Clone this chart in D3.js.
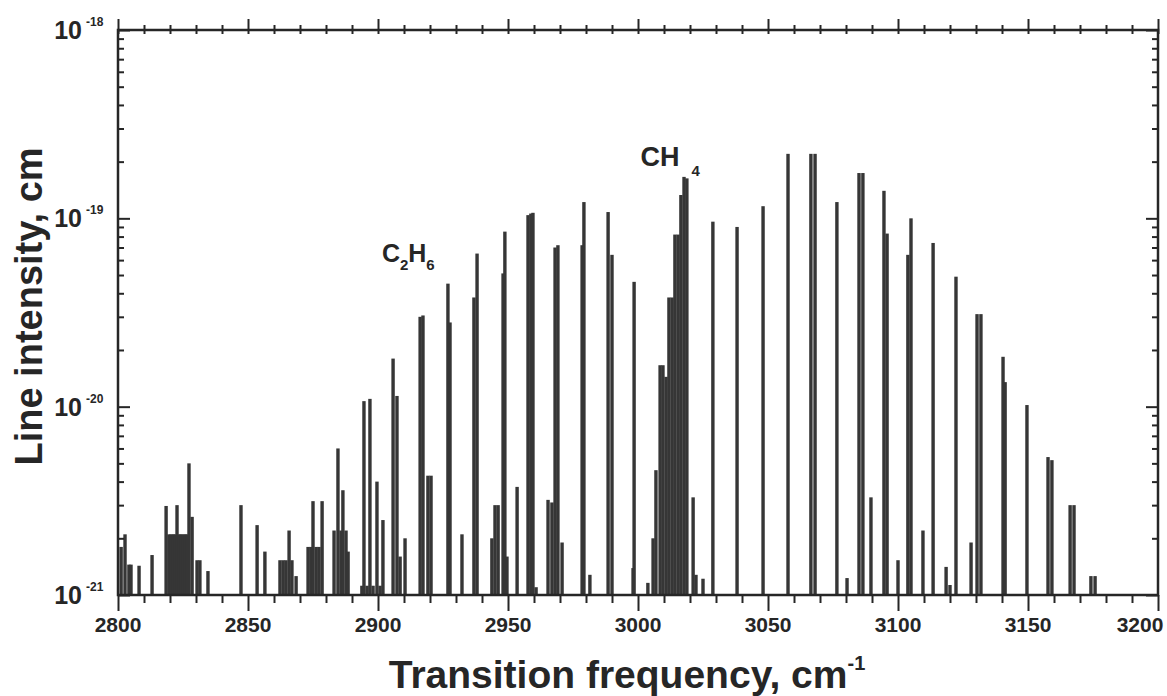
<!DOCTYPE html>
<html>
<head>
<meta charset="utf-8">
<script src="https://cdn.jsdelivr.net/npm/d3@7"></script>
<style>
  body { margin: 0; background: #fff; }
  text { font-family: "Liberation Sans", Arial, sans-serif; font-weight: bold; fill: #262626; }
</style>
</head>
<body>
<div id="chart"></div>
<script>
// line positions (cm-1) and intensities (cm)
const freqs = [
  2801.2, 2802.7, 2804.2, 2805.0, 2808.1, 2813.1, 2818.5, 2819.6, 2820.4, 2821.2,
  2821.9, 2822.7, 2823.5, 2824.2, 2825.0, 2825.8, 2826.5, 2827.3, 2828.5, 2830.4,
  2831.5, 2834.6, 2847.3, 2853.5, 2856.5, 2862.3, 2863.5, 2864.6, 2865.8, 2866.9,
  2868.5, 2873.1, 2874.2, 2875.0, 2876.2, 2877.3, 2878.5, 2883.1, 2884.6, 2885.8,
  2886.5, 2887.7, 2888.5, 2893.8, 2894.6, 2895.8, 2896.9, 2898.1, 2899.6, 2900.8,
  2901.9, 2905.8, 2907.3, 2908.5, 2910.4, 2916.2, 2917.3, 2919.2, 2920.4, 2926.9,
  2927.7, 2932.3, 2936.9, 2938.1, 2943.8, 2945.0, 2946.2, 2948.1, 2948.8, 2949.6,
  2953.5, 2957.7, 2958.8, 2959.6, 2960.8, 2965.4, 2966.9, 2968.1, 2969.2, 2970.8,
  2978.5, 2979.2, 2981.5, 2988.5, 2990.0, 2998.1, 2998.5, 3003.8, 3005.8, 3006.9,
  3008.5, 3009.6, 3010.8, 3011.9, 3013.1, 3014.2, 3015.4, 3016.5, 3017.7, 3018.8,
  3021.2, 3022.3, 3025.0, 3028.8, 3038.1, 3048.1, 3057.7, 3066.5, 3068.1, 3076.5,
  3080.4, 3085.0, 3086.5, 3089.6, 3094.6, 3095.8, 3100.0, 3103.8, 3105.0, 3109.6,
  3113.5, 3118.5, 3120.0, 3122.3, 3128.1, 3130.4, 3131.9, 3140.4, 3141.2, 3149.6,
  3157.7, 3159.2, 3166.2, 3167.7, 3174.2, 3175.8
];
const intensities = [
  1.8e-21, 2.1e-21, 1.45e-21, 1.45e-21, 1.43e-21, 1.63e-21, 2.97e-21, 2.1e-21, 2.1e-21, 2.1e-21,
  2.1e-21, 3.0e-21, 2.1e-21, 2.1e-21, 2.1e-21, 2.1e-21, 2.1e-21, 5.0e-21, 2.6e-21, 1.53e-21,
  1.53e-21, 1.34e-21, 3.0e-21, 2.35e-21, 1.7e-21, 1.53e-21, 1.53e-21, 1.53e-21, 2.2e-21, 1.53e-21,
  1.26e-21, 1.8e-21, 1.8e-21, 3.15e-21, 1.8e-21, 1.8e-21, 3.15e-21, 2.2e-21, 6.0e-21, 2.2e-21,
  3.6e-21, 2.2e-21, 1.7e-21, 1.12e-21, 1.07e-20, 1.12e-21, 1.1e-20, 1.12e-21, 4.0e-21, 1.12e-21,
  2.5e-21, 1.8e-20, 1.14e-20, 1.6e-21, 2.0e-21, 3.0e-20, 3.05e-20, 4.3e-21, 4.3e-21, 4.5e-20,
  2.8e-20, 2.1e-21, 3.8e-20, 6.5e-20, 2.0e-21, 3.0e-21, 3.0e-21, 5.1e-20, 8.5e-20, 1.6e-21,
  3.75e-21, 1.04e-19, 1.06e-19, 1.07e-19, 1.1e-21, 3.2e-21, 3.1e-21, 7.0e-20, 7.2e-20, 1.9e-21,
  7.2e-20, 1.22e-19, 1.28e-21, 1.08e-19, 6.4e-20, 1.39e-21, 4.6e-20, 1.16e-21, 2.0e-21, 4.6e-21,
  1.66e-20, 1.66e-20, 1.44e-20, 3.8e-20, 3.8e-20, 8.2e-20, 8.2e-20, 1.33e-19, 1.66e-19, 1.63e-19,
  3.3e-21, 1.28e-21, 1.22e-21, 9.6e-20, 9.0e-20, 1.16e-19, 2.2e-19, 2.2e-19, 2.2e-19, 1.22e-19,
  1.23e-21, 1.74e-19, 1.74e-19, 3.3e-21, 1.4e-19, 8.3e-20, 1.53e-21, 6.4e-20, 1.0e-19, 2.2e-21,
  7.4e-20, 1.41e-21, 1.13e-21, 4.9e-20, 1.9e-21, 3.1e-20, 3.1e-20, 1.84e-20, 1.35e-20, 1.02e-20,
  5.4e-21, 5.2e-21, 3.0e-21, 3.0e-21, 1.26e-21, 1.26e-21
];

const xMajor = [2800, 2850, 2900, 2950, 3000, 3050, 3100, 3150, 3200];
const yDecades = [1e-21, 1e-20, 1e-19, 1e-18];
const yExponents = ["-21", "-20", "-19", "-18"];

const width = 1167, height = 696;
const margin = { top: 30, right: 9, bottom: 101, left: 118 };

const svg = d3.select("#chart").append("svg")
  .attr("width", width)
  .attr("height", height);

const x = d3.scaleLinear().domain([2800, 3200]).range([margin.left, width - margin.right]);
const y = d3.scaleLog().domain([1e-21, 1e-18]).range([height - margin.bottom, margin.top]);

const xMinor = d3.range(2800, 3201, 10).filter(v => v % 50 !== 0);
const yMinor = [];
yDecades.slice(0, 3).forEach(d => { for (let k = 2; k <= 9; k++) yMinor.push(d * k); });

const x0 = x.range()[0], x1 = x.range()[1];
const yb = y.range()[0], yt = y.range()[1];

// spectral lines
const lines = freqs.map((f, i) => ({ f, v: intensities[i] }));
svg.append("g")
  .selectAll("rect")
  .data(lines)
  .enter()
  .append("rect")
  .attr("x", d => x(d.f) - 1.7)
  .attr("width", 3.4)
  .attr("y", d => y(d.v))
  .attr("height", d => yb - y(d.v))
  .attr("fill", "#363636");

// axes: ticks only, frame drawn separately
function styleAxis(g) {
  g.select(".domain").remove();
  g.selectAll(".tick line").attr("stroke", "#262626").attr("stroke-width", 2);
  g.selectAll(".tick text").remove();
}

svg.append("g").attr("transform", `translate(0,${yb})`)
  .call(d3.axisBottom(x).tickValues(xMinor).tickSize(8)).call(styleAxis);
svg.append("g").attr("transform", `translate(0,${yb})`)
  .call(d3.axisBottom(x).tickValues(xMajor).tickSize(16)).call(styleAxis);

svg.append("g").attr("transform", `translate(0,${yt})`)
  .call(d3.axisTop(x).tickValues(xMinor).tickSize(5)).call(styleAxis);
svg.append("g").attr("transform", `translate(0,${yt})`)
  .call(d3.axisBottom(x).tickValues(xMinor.concat(xMajor)).tickSize(4)).call(styleAxis);
svg.append("g").attr("transform", `translate(0,${yt})`)
  .call(d3.axisTop(x).tickValues(xMajor).tickSize(11)).call(styleAxis);

svg.append("g").attr("transform", `translate(${x0},0)`)
  .call(d3.axisLeft(y).tickValues(yMinor).tickSize(-6)).call(styleAxis);
svg.append("g").attr("transform", `translate(${x0},0)`)
  .call(d3.axisLeft(y).tickValues(yDecades).tickSize(-12)).call(styleAxis);
svg.append("g").attr("transform", `translate(${x1},0)`)
  .call(d3.axisRight(y).tickValues(yMinor).tickSize(-6)).call(styleAxis);
svg.append("g").attr("transform", `translate(${x1},0)`)
  .call(d3.axisRight(y).tickValues(yDecades).tickSize(-12)).call(styleAxis);

// frame
svg.append("rect")
  .attr("x", x0).attr("y", yt)
  .attr("width", x1 - x0).attr("height", yb - yt)
  .attr("fill", "none").attr("stroke", "#262626").attr("stroke-width", 2.5);

// tick labels
svg.append("g").selectAll("text")
  .data(xMajor)
  .enter()
  .append("text")
  .attr("x", d => Math.min(x(d), width - 27))
  .attr("y", yb + 37)
  .attr("text-anchor", "middle")
  .attr("font-size", 21)
  .text(d => d);

svg.append("g").selectAll("text")
  .data(yDecades)
  .enter()
  .append("text")
  .attr("x", x0 - 36)
  .attr("y", d => y(d) + 9)
  .attr("text-anchor", "end")
  .attr("font-size", 25)
  .attr("font-weight", "normal")
  .text("10");

svg.append("g").selectAll("text")
  .data(yDecades)
  .enter()
  .append("text")
  .attr("x", x0 - 32)
  .attr("y", d => y(d) - 4)
  .attr("font-size", 12)
  .text((d, i) => yExponents[i]);

// axis titles
const xt = svg.append("text")
  .attr("x", 627)
  .attr("y", 688)
  .attr("text-anchor", "middle")
  .attr("font-size", 39);
xt.append("tspan").text("Transition frequency, cm");
xt.append("tspan").attr("dy", -18).attr("font-size", 20).text("-1");

svg.append("text")
  .attr("transform", `translate(42,${(yt + yb) / 2 - 6}) rotate(-90)`)
  .attr("text-anchor", "middle")
  .attr("font-size", 38)
  .text("Line intensity, cm");

// molecule labels
const c2h6 = svg.append("text").attr("x", x(2901.5)).attr("y", 262).attr("font-size", 25);
c2h6.append("tspan").text("C");
c2h6.append("tspan").attr("dy", 8).attr("font-size", 15).text("2");
c2h6.append("tspan").attr("dy", -8).text("H");
c2h6.append("tspan").attr("dy", 8).attr("font-size", 15).text("6");

const ch4 = svg.append("text").attr("x", x(3001)).attr("y", 166).attr("font-size", 27);
ch4.append("tspan").text("CH");
ch4.append("tspan").attr("dx", 12).attr("dy", 10).attr("font-size", 15).text("4");
</script>
</body>
</html>
